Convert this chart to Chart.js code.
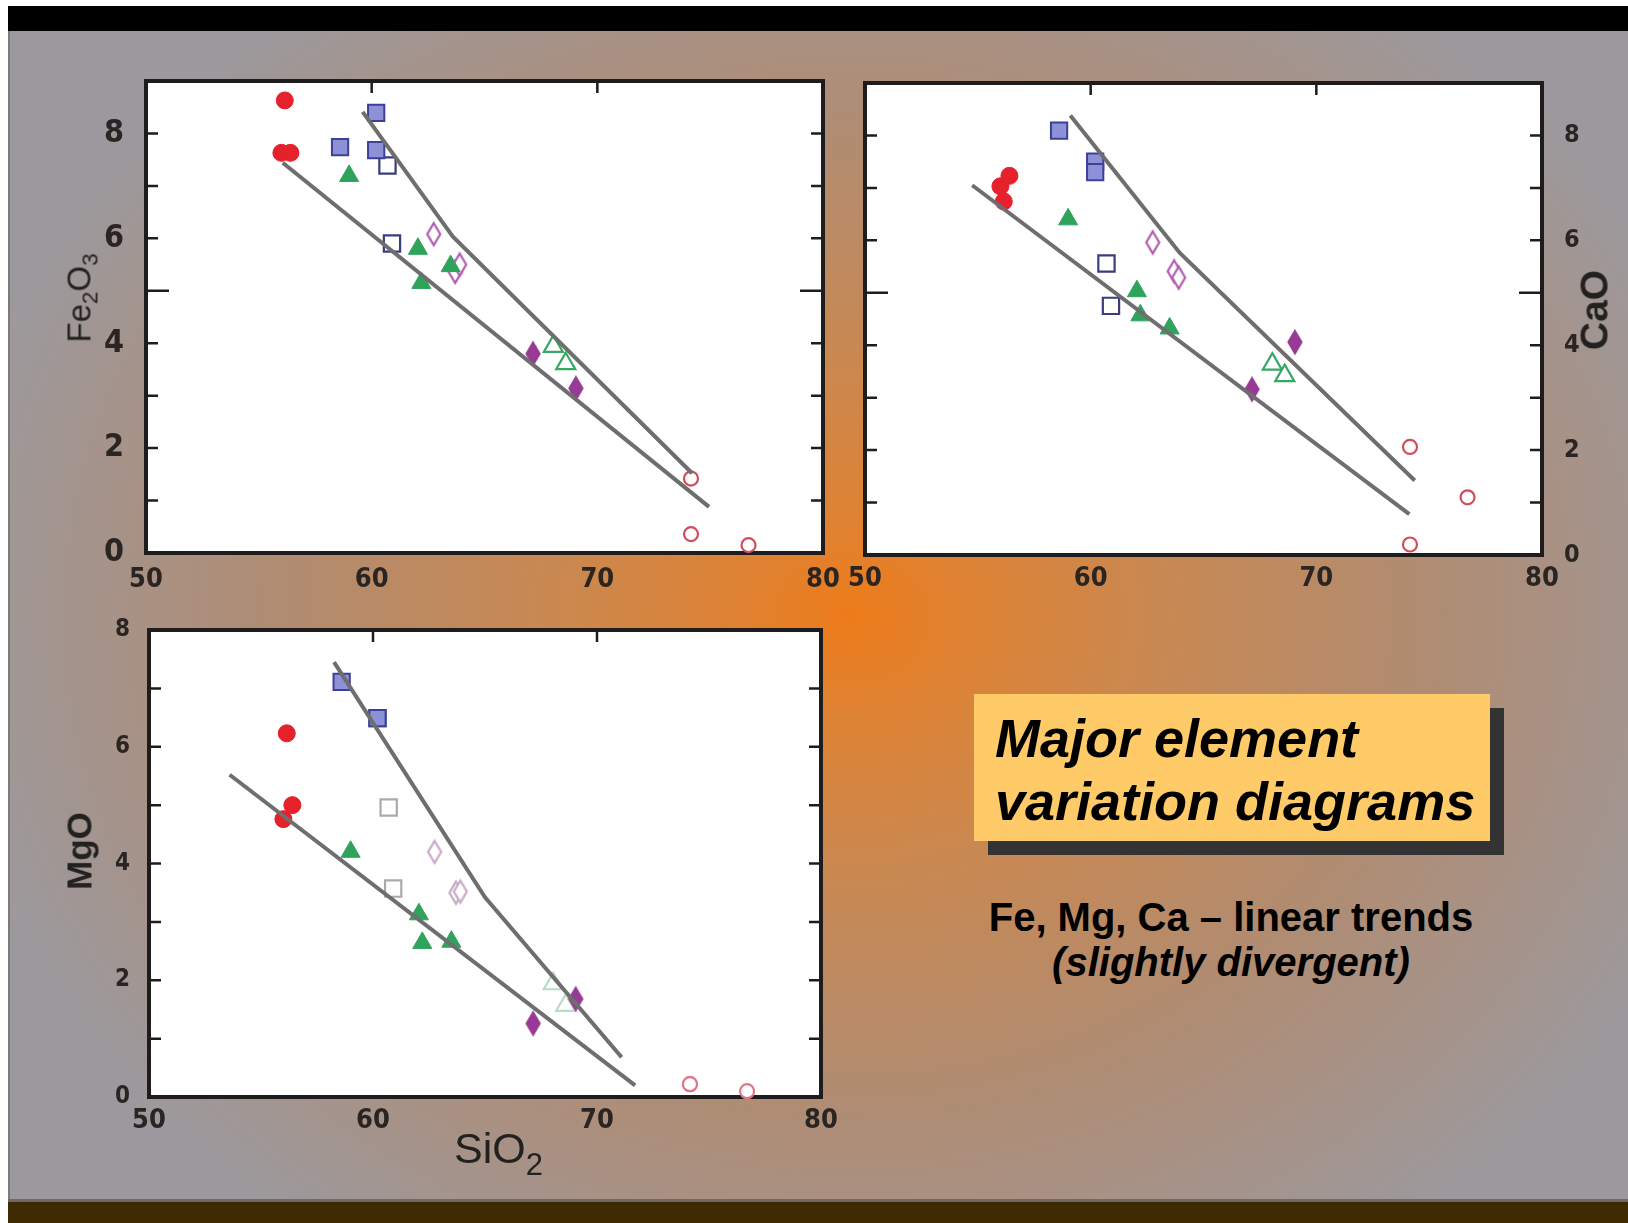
<!DOCTYPE html>
<html>
<head>
<meta charset="utf-8">
<script src="https://cdn.jsdelivr.net/npm/chart.js@4.4.1/dist/chart.umd.min.js"></script>
<style>
  html, body { margin: 0; padding: 0; background: #fff; }
  body { width: 1628px; height: 1223px; position: relative; overflow: hidden;
         font-family: "Liberation Sans", Arial, sans-serif; }
  #bg { position: absolute; left: 8px; top: 31px; width: 1620px; height: 1170px;
        background: radial-gradient(ellipse 920px 780px at 52% 50%, #ee7b1a 0%, #df8232 12%, #ca8850 32%, #b08c72 62%, #9c999e 100%);
        border-left: 2px solid #7d7a7a; box-sizing: border-box; }
  #topbar { position: absolute; left: 8px; top: 6px; width: 1620px; height: 25px; background: #000; }
  #botline { position: absolute; left: 8px; top: 1199px; width: 1620px; height: 3px; background: #6f6a66; }
  #botbar { position: absolute; left: 8px; top: 1202px; width: 1620px; height: 21px; background: #3e2b02; }
  canvas { position: absolute; }
  .vlab { position: absolute; white-space: nowrap; color: #232120;
          transform: translate(-50%, -50%) rotate(-90deg); line-height: 1; }
  .vlab sub, #sio2 sub { font-size: 68%; vertical-align: -0.32em; line-height: 0; }
  #fe { left: 79px; top: 298px; font-size: 33px; }
  #ca { left: 1594px; top: 310px; font-size: 39px; font-weight: bold; }
  #mg { left: 79px; top: 851px; font-size: 35px; font-weight: bold; }
  #sio2 { position: absolute; left: 454px; top: 1127px; font-size: 43px; line-height: 1; color: #232120; }
  #sio2 sub { font-size: 72%; vertical-align: -0.4em; }
  #shadow { position: absolute; left: 988px; top: 708px; width: 516px; height: 147px; background: #333; }
  #box { position: absolute; left: 974px; top: 694px; width: 516px; height: 147px; background: #ffca68;
         box-sizing: border-box; padding: 13px 0 0 21px; white-space: nowrap;
         font: italic bold 54px/63px "Liberation Sans", Arial, sans-serif; color: #000; }
  #sub { position: absolute; left: 931px; width: 600px; top: 895px; text-align: center;
         font: bold 40px/45px "Liberation Sans", Arial, sans-serif; color: #000; }
</style>
</head>
<body>
<div id="bg"></div>
<div id="topbar"></div>
<div id="botline"></div>
<div id="botbar"></div>

<canvas id="feChart" width="770" height="550" style="left:80px;top:61px"></canvas>
<canvas id="caChart" width="770" height="550" style="left:840px;top:63px"></canvas>
<canvas id="mgChart" width="770" height="542" style="left:80px;top:605px"></canvas>

<div class="vlab" id="fe">Fe<sub>2</sub>O<sub>3</sub></div>
<div class="vlab" id="ca">CaO</div>
<div class="vlab" id="mg">MgO</div>
<div id="sio2">SiO<sub>2</sub></div>

<div id="shadow"></div>
<div id="box">Major element<br>variation diagrams</div>
<div id="sub">Fe, Mg, Ca – linear trends<br><i>(slightly divergent)</i></div>

<script>
// SiO2 (x) and oxide values (y) per sample group
const siRed = [56.15, 56.0, 56.4];
const feRed = [8.63, 7.63, 7.63];
const caRed = [6.74, 7.03, 7.23];
const mgRed = [6.23, 4.76, 5.0];

const siBlue = [58.6, 60.2, 60.2];
const feBlue = [7.74, 8.39, 7.68];
const caBlue = [8.09, 7.5, 7.3];
const mgBlue = [7.11, 6.49, 6.49];

const siOpenSq = [60.7, 60.9];
const feOpenSq = [7.39, 5.9];
const caOpenSq = [5.56, 4.75];
const mgOpenSq = [4.96, 3.57];

const siTri = [59.0, 62.05, 62.2, 63.5];
const feTri = [7.19, 5.8, 5.15, 5.47];
const caTri = [6.4, 5.03, 4.57, 4.32];
const mgTri = [4.2, 3.13, 2.64, 2.66];

const siOpenDia = [62.75, 63.7, 63.9];
const feOpenDia = [6.08, 5.36, 5.5];
const caOpenDia = [5.96, 5.41, 5.29];
const mgOpenDia = [4.2, 3.5, 3.52];

const siDia = [67.15, 69.05];
const feDia = [3.8, 3.14];
const caDia = [3.16, 4.06];
const mgDia = [1.26, 1.68];

const siOpenTri = [68.05, 68.6];
const feOpenTri = [3.94, 3.61];
const caOpenTri = [3.64, 3.42];
const mgOpenTri = [1.94, 1.57];

const siOpenCirc = [74.15, 74.15, 76.7];
const feOpenCirc = [1.42, 0.36, 0.15];
const caOpenCirc = [2.06, 0.2, 1.1];
const mgOpenCirc = [0.22, 0.22, 0.1];

// hand-drawn trend lines
const feLowSi = [56.06, 74.95], feLow = [7.44, 0.88];
const feUpSi = [59.6, 63.6, 74.2], feUp = [8.41, 6.03, 1.52];
const caLowSi = [54.75, 74.12], caLow = [7.05, 0.78];
const caUpSi = [59.1, 63.95, 74.36], caUp = [8.38, 5.76, 1.42];
const mgLowSi = [53.6, 71.7], mgLow = [5.52, 0.2];
const mgUpSi = [58.26, 65.0, 71.1], mgUp = [7.45, 3.42, 0.68];

const xTicks = [50, 60, 70, 80];

function pts(xs, ys) {
  return xs.map(function (x, i) { return { x: x, y: ys[i] }; });
}

function diamond(fill, stroke) {
  const c = document.createElement("canvas");
  c.width = 18; c.height = 28;
  const g = c.getContext("2d");
  g.beginPath();
  g.moveTo(9, 3); g.lineTo(15.5, 14); g.lineTo(9, 25); g.lineTo(2.5, 14); g.closePath();
  g.fillStyle = fill; g.fill();
  g.lineWidth = 2.2; g.strokeStyle = stroke; g.stroke();
  return c;
}

const tickFont = '"Liberation Sans Narrow", "DejaVu Sans Condensed", "Liberation Sans", Arial, sans-serif';
const labelColor = "#2a2522";

const framePlugin = {
  id: "frame",
  beforeDraw: function (chart) {
    const a = chart.chartArea, ctx = chart.ctx;
    ctx.save();
    ctx.fillStyle = "#ffffff";
    ctx.fillRect(a.left, a.top, a.right - a.left, a.bottom - a.top);
    ctx.restore();
  },
  beforeDatasetsDraw: function (chart, args, opts) {
    const a = chart.chartArea, ctx = chart.ctx;
    const xs = chart.scales.x, ys = chart.scales.y;
    ctx.save();
    ctx.strokeStyle = "#1e1c1c";
    ctx.lineWidth = 2.5;
    ctx.beginPath();
    ys.ticks.forEach(function (t) {
      if (t.value <= ys.min || t.value >= ys.max) return;
      const y = ys.getPixelForValue(t.value);
      const len = t.value === opts.longTick ? 23 : 12;
      ctx.moveTo(a.left, y); ctx.lineTo(a.left + len, y);
      ctx.moveTo(a.right, y); ctx.lineTo(a.right - len, y);
    });
    xs.ticks.forEach(function (t) {
      if (t.value <= xs.min || t.value >= xs.max) return;
      const x = xs.getPixelForValue(t.value);
      ctx.moveTo(x, a.top); ctx.lineTo(x, a.top + 12);
    });
    ctx.stroke();
    ctx.lineWidth = 4;
    ctx.strokeRect(a.left, a.top, a.right - a.left, a.bottom - a.top);
    ctx.restore();
  }
};

function lineSet(xs, ys) {
  return {
    data: pts(xs, ys), showLine: true, borderColor: "#6e6e6e", borderWidth: 4,
    pointRadius: 0, clip: false
  };
}

function markerSet(xs, ys, style) {
  return Object.assign({ data: pts(xs, ys), showLine: false, clip: false }, style);
}

function groups(faded) {
  return {
    red: { pointStyle: "circle", pointRadius: 8.5, backgroundColor: "#e5212b", borderColor: "#e5212b", borderWidth: 1 },
    blue: { pointStyle: "rect", pointRadius: 11.5, backgroundColor: "#8d92d8", borderColor: "#3c4096", borderWidth: 2 },
    openSq: { pointStyle: "rect", pointRadius: 11.5, backgroundColor: "#ffffff",
              borderColor: faded ? "#a9a9b0" : "#3a3d78", borderWidth: 2.2 },
    tri: { pointStyle: "triangle", pointRadius: 11, backgroundColor: "#2fa35c", borderColor: "#2fa35c", borderWidth: 1 },
    openDia: { pointStyle: faded ? diamond("#ffffff", "#c6aac6") : diamond("#ffffff", "#b05cb0"), pointRadius: 8 },
    dia: { pointStyle: diamond("#973b95", "#973b95"), pointRadius: 8 },
    openTri: { pointStyle: "triangle", pointRadius: 11, backgroundColor: "#ffffff",
               borderColor: faded ? "#b9dcc6" : "#37a866", borderWidth: 2.2 },
    openCirc: { pointStyle: "circle", pointRadius: 7, backgroundColor: "#ffffff",
                borderColor: faded ? "#e07888" : "#d24c5c", borderWidth: 2.2 }
  };
}

function makeChart(id, cfg) {
  const g = groups(cfg.faded);
  const datasets = [
    lineSet(cfg.lowSi, cfg.low),
    lineSet(cfg.upSi, cfg.up),
    markerSet(siRed, cfg.red, g.red),
    markerSet(siBlue, cfg.blue, g.blue),
    markerSet(siOpenSq, cfg.openSq, g.openSq),
    markerSet(siTri, cfg.tri, g.tri),
    markerSet(siOpenDia, cfg.openDia, g.openDia),
    markerSet(siDia, cfg.dia, g.dia),
    markerSet(siOpenTri, cfg.openTri, g.openTri),
    markerSet(siOpenCirc, cfg.openCirc, g.openCirc)
  ];

  new Chart(document.getElementById(id).getContext("2d"), {
    type: "scatter",
    data: { datasets: datasets },
    plugins: [framePlugin],
    options: {
      responsive: false,
      maintainAspectRatio: false,
      animation: false,
      devicePixelRatio: 1,
      events: [],
      layout: { padding: cfg.padding },
      plugins: {
        legend: { display: false },
        tooltip: { enabled: false },
        frame: { longTick: cfg.longTick }
      },
      scales: {
        x: {
          type: "linear", min: xTicks[0], max: xTicks[xTicks.length - 1],
          grid: { display: false }, border: { display: false },
          afterBuildTicks: function (s) { s.ticks = xTicks.map(function (v) { return { value: v }; }); },
          ticks: {
            color: labelColor, padding: cfg.xPad, maxRotation: 0, autoSkip: false,
            font: { family: tickFont, size: cfg.xFont, weight: "bold" }
          },
          afterFit: function (s) { s.height = cfg.xHeight; s.paddingLeft = 0; s.paddingRight = 0; }
        },
        y: {
          type: "linear", position: cfg.yPos, min: 0, max: cfg.yMax,
          grid: { display: false }, border: { display: false },
          ticks: {
            stepSize: 1, color: labelColor, padding: cfg.yPad, autoSkip: false,
            font: { family: tickFont, size: cfg.yFont, weight: "bold" },
            callback: function (v) { return v % 2 === 0 ? String(v) : ""; }
          },
          afterFit: function (s) { s.width = cfg.yWidth; s.paddingTop = 0; s.paddingBottom = 0; }
        }
      }
    }
  });
}

makeChart("feChart", {
  lowSi: feLowSi, low: feLow, upSi: feUpSi, up: feUp,
  red: feRed, blue: feBlue, openSq: feOpenSq, tri: feTri, openDia: feOpenDia,
  dia: feDia, openTri: feOpenTri, openCirc: feOpenCirc,
  yMax: 9, yPos: "left", yWidth: 66, yPad: 14, yFont: 32, xFont: 27, xPad: 3, xHeight: 58,
  padding: { top: 20, right: 27, left: 0, bottom: 0 }, longTick: 5, faded: false
});

makeChart("caChart", {
  lowSi: caLowSi, low: caLow, upSi: caUpSi, up: caUp,
  red: caRed, blue: caBlue, openSq: caOpenSq, tri: caTri, openDia: caOpenDia,
  dia: caDia, openTri: caOpenTri, openCirc: caOpenCirc,
  yMax: 9, yPos: "right", yWidth: 68, yPad: 14, yFont: 25, xFont: 27, xPad: 0, xHeight: 58,
  padding: { top: 20, right: 0, left: 25, bottom: 0 }, longTick: 5, faded: false
});

makeChart("mgChart", {
  lowSi: mgLowSi, low: mgLow, upSi: mgUpSi, up: mgUp,
  red: mgRed, blue: mgBlue, openSq: mgOpenSq, tri: mgTri, openDia: mgOpenDia,
  dia: mgDia, openTri: mgOpenTri, openCirc: mgOpenCirc,
  yMax: 8, yPos: "left", yWidth: 69, yPad: 11, yFont: 24, xFont: 27, xPad: 0, xHeight: 50,
  padding: { top: 25, right: 29, left: 0, bottom: 0 }, longTick: null, faded: true
});
</script>
</body>
</html>
